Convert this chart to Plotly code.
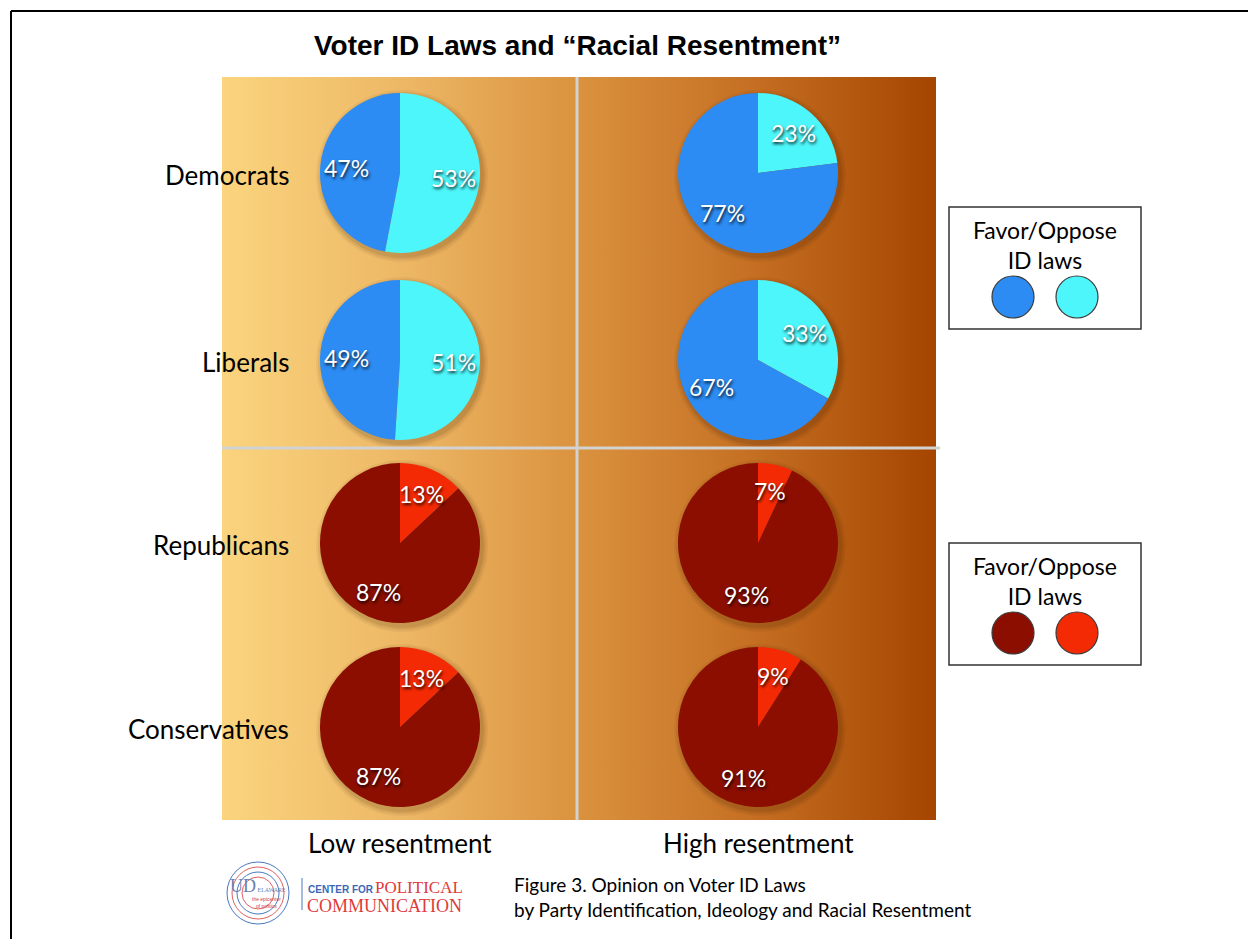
import math
import numpy as np
import plotly.graph_objects as go

# ---------------- data ----------------
groups = ["Democrats", "Liberals", "Republicans", "Conservatives"]
resentment_levels = ["Low resentment", "High resentment"]
favor_low = [47, 49, 87, 87]
oppose_low = [53, 51, 13, 13]
favor_high = [77, 67, 93, 91]
oppose_high = [23, 33, 7, 9]
legend_lines = ["Favor/Oppose", "ID laws"]
title_text = "Voter ID Laws and \u201cRacial Resentment\u201d"
caption_lines = ["Figure 3. Opinion on Voter ID Laws",
                 "by Party Identification, Ideology and Racial Resentment"]

# ---------------- layout constants (pixels) ----------------
W, H = 1248, 939
PANEL = dict(x0=222, x1=936, y0=77, y1=820)
COL_X = [400, 758]
ROW_Y = [173, 360, 543, 727]
R = 80
LABEL_FONT = "Lato, 'Open Sans', sans-serif"
BLUE, CYAN = "#2C8CF3", "#4DF6FA"
DARKRED, RED = "#8B0E00", "#F42A04"

def px(x):
    return x / W

def py(y):
    return 1 - y / H

fig = go.Figure()

# background gradient panel
fig.add_trace(go.Scatter(
    x=[PANEL["x0"], PANEL["x1"], PANEL["x1"], PANEL["x0"], PANEL["x0"]],
    y=[PANEL["y0"], PANEL["y0"], PANEL["y1"], PANEL["y1"], PANEL["y0"]],
    mode="lines", line=dict(width=0), fill="toself",
    fillgradient=dict(type="horizontal",
                      colorscale=[[0, "#FBD47E"], [0.25, "#EDB866"], [0.5, "#DA923E"],
                                  [0.75, "#C46E22"], [1, "#A54500"]]),
    hoverinfo="skip", showlegend=False))

# soft pie shadows
theta = np.linspace(0, 2 * np.pi, 121)
for cx in COL_X:
    for cy in ROW_Y:
        for dr, a in [(6, 0.05), (4, 0.07), (2, 0.10)]:
            fig.add_trace(go.Scatter(
                x=cx + 2 + (R + dr) * np.cos(theta), y=cy + 3 + (R + dr) * np.sin(theta),
                mode="lines", line=dict(width=0), fill="toself",
                fillcolor=f"rgba(60,25,0,{a})", hoverinfo="skip", showlegend=False))

annotations = []
shapes = []

# pies
for ci, (fav, opp) in enumerate([(favor_low, oppose_low), (favor_high, oppose_high)]):
    for ri, g in enumerate(groups):
        cx, cy = COL_X[ci], ROW_Y[ri]
        colors = [CYAN, BLUE] if ri < 2 else [RED, DARKRED]
        vals = [opp[ri], fav[ri]]
        fig.add_trace(go.Pie(
            values=vals, labels=["Oppose", "Favor"], sort=False,
            direction="clockwise", rotation=0, textinfo="none", hoverinfo="label+value",
            marker=dict(colors=colors, line=dict(width=0)),
            domain=dict(x=[px(cx - R), px(cx + R)], y=[py(cy + R), py(cy - R)]),
            showlegend=False))
        total = sum(vals)
        cum = 0
        for v in vals:
            mid = (cum + v / 2) / total * 2 * math.pi
            cum += v
            rl = 0.67 * R
            annotations.append(dict(
                x=cx + rl * math.sin(mid), y=cy - rl * math.cos(mid), xref="x", yref="y",
                text=f"{v}%", showarrow=False, xanchor="center", yanchor="middle",
                font=dict(family=LABEL_FONT, size=23, color="white",
                          shadow="1px 2px 3px rgba(0,0,0,0.85)")))

# row labels
for ri, g in enumerate(groups):
    annotations.append(dict(x=291, y=ROW_Y[ri] + 2, xref="x", yref="y", text=g,
                            showarrow=False, xanchor="right", yanchor="middle",
                            font=dict(family=LABEL_FONT, size=26, color="black")))
# column labels
for ci, c in enumerate(resentment_levels):
    annotations.append(dict(x=COL_X[ci], y=843, xref="x", yref="y", text=c,
                            showarrow=False, xanchor="center", yanchor="middle",
                            font=dict(family=LABEL_FONT, size=26, color="black")))
# title
annotations.append(dict(x=577, y=45, xref="x", yref="y", text=title_text, showarrow=False,
                        xanchor="center", yanchor="middle",
                        font=dict(family="'Liberation Sans', Arial, sans-serif", size=28,
                                  color="black", weight="bold")))
# caption
annotations.append(dict(x=512, y=897, xref="x", yref="y", text="<br>".join(caption_lines),
                        showarrow=False, xanchor="left", yanchor="middle", align="left",
                        font=dict(family=LABEL_FONT, size=19, color="black")))

# divider lines
shapes.append(dict(type="line", xref="x", yref="y", x0=577, x1=577, y0=PANEL["y0"], y1=PANEL["y1"],
                   line=dict(color="#D2D2D2", width=3), layer="above"))
shapes.append(dict(type="line", xref="x", yref="y", x0=PANEL["x0"], x1=940, y0=448, y1=448,
                   line=dict(color="#D2D2D2", width=3), layer="above"))

# legend boxes
for (y0, c1, c2) in [(207, BLUE, CYAN), (543, DARKRED, RED)]:
    shapes.append(dict(type="rect", xref="x", yref="y", x0=949, x1=1141, y0=y0, y1=y0 + 122,
                       fillcolor="white", line=dict(color="#333333", width=1.5), layer="above"))
    for cxl, col in [(1013, c1), (1077, c2)]:
        shapes.append(dict(type="circle", xref="x", yref="y", x0=cxl - 21, x1=cxl + 21,
                           y0=y0 + 69, y1=y0 + 111, fillcolor=col,
                           line=dict(color="#3A3A3A", width=1.2), layer="above"))
    annotations.append(dict(x=1045, y=y0 + 38, xref="x", yref="y", text="<br>".join(legend_lines),
                            showarrow=False, xanchor="center", yanchor="middle", align="center",
                            font=dict(family=LABEL_FONT, size=23, color="black")))

# outer frame
shapes.append(dict(type="line", xref="x", yref="y", x0=11, x1=W, y0=11, y1=11,
                   line=dict(color="black", width=2), layer="above"))
shapes.append(dict(type="line", xref="x", yref="y", x0=11, x1=11, y0=11, y1=H,
                   line=dict(color="black", width=2), layer="above"))

# logo (approximation)
for r, col in [(31, "#4A78C0"), (26, "#E06060"), (21, "#4A78C0"), (16, "#E06060")]:
    shapes.append(dict(type="circle", xref="x", yref="y", x0=258 - r, x1=258 + r,
                       y0=893 - r, y1=893 + r, line=dict(color=col, width=1),
                       fillcolor="rgba(0,0,0,0)", layer="above"))
shapes.append(dict(type="line", xref="x", yref="y", x0=302, x1=302, y0=878, y1=910,
                   line=dict(color="#4A78C0", width=1), layer="above"))
annotations += [
    dict(x=258, y=886, xref="x", yref="y", text="UD<span style='font-size:6px'> ELAWARE</span>",
         showarrow=False, xanchor="center", yanchor="middle",
         font=dict(family="'Liberation Serif', serif", size=18, color="#6A7FB0")),
    dict(x=266, y=902, xref="x", yref="y", text="the epicenter<br>of politics", showarrow=False,
         xanchor="center", yanchor="middle",
         font=dict(family="'Liberation Sans', sans-serif", size=5, color="#D04040")),
    dict(x=306, y=889, xref="x", yref="y", text="<b>CENTER FOR</b>", showarrow=False,
         xanchor="left", yanchor="middle",
         font=dict(family="'Liberation Sans', sans-serif", size=10, color="#3A68B8")),
    dict(x=373, y=887, xref="x", yref="y", text="POLITICAL", showarrow=False,
         xanchor="left", yanchor="middle",
         font=dict(family="'Liberation Serif', serif", size=17, color="#E03A3A")),
    dict(x=305, y=906, xref="x", yref="y", text="COMMUNICATION", showarrow=False,
         xanchor="left", yanchor="middle",
         font=dict(family="'Liberation Serif', serif", size=18, color="#E03A3A")),
]

fig.update_layout(
    width=W, height=H, margin=dict(l=0, r=0, t=0, b=0),
    paper_bgcolor="white", plot_bgcolor="white", showlegend=False,
    xaxis=dict(range=[0, W], visible=False, fixedrange=True, domain=[0, 1]),
    yaxis=dict(range=[H, 0], visible=False, fixedrange=True, domain=[0, 1]),
    annotations=annotations, shapes=shapes,
)

fig.write_html("out.html")
